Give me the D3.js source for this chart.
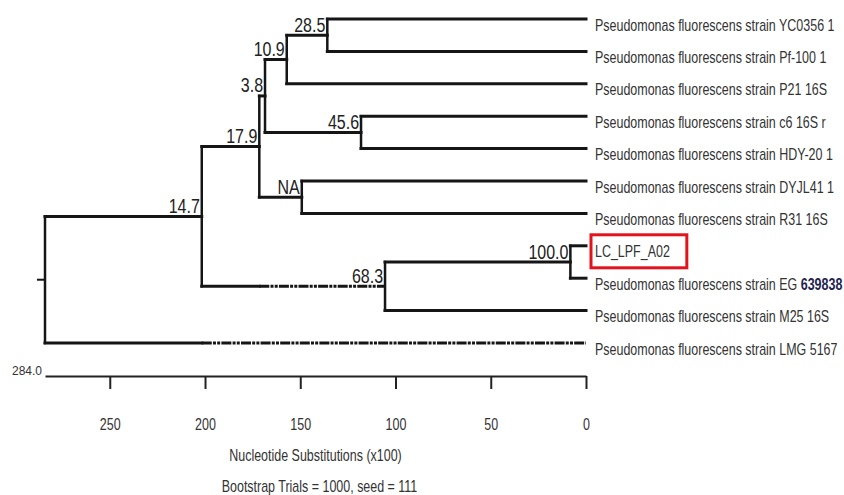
<!DOCTYPE html>
<html>
<head>
<meta charset="utf-8">
<script src="https://cdn.jsdelivr.net/npm/d3@7"></script>
<style>
  html, body { margin: 0; padding: 0; background: #fff; }
  svg { display: block; font-family: "Liberation Sans", Arial, sans-serif; }
</style>
</head>
<body>
<svg id="chart" width="844" height="495"></svg>
<script>
// leaves, top to bottom
const leafNames = [
  'Pseudomonas fluorescens strain YC0356 1',
  'Pseudomonas fluorescens strain Pf-100 1',
  'Pseudomonas fluorescens strain P21 16S',
  'Pseudomonas fluorescens strain c6 16S r',
  'Pseudomonas fluorescens strain HDY-20 1',
  'Pseudomonas fluorescens strain DYJL41 1',
  'Pseudomonas fluorescens strain R31 16S',
  'LC_LPF_A02',
  'Pseudomonas fluorescens strain EG 639838',
  'Pseudomonas fluorescens strain M25 16S',
  'Pseudomonas fluorescens strain LMG 5167'
];
const leafParents = ['n28_5', 'n28_5', 'n10_9', 'n45_6', 'n45_6', 'nNA', 'nNA', 'n100', 'n100', 'n68_3', 'root'];

// internal nodes: height in nucleotide substitutions (x100), bootstrap support
const nodeIds     = ['root', 'n14_7', 'n17_9', 'n3_8', 'n10_9', 'n28_5', 'n45_6', 'nNA', 'n68_3', 'n100'];
const nodeParents = ['',     'root',  'n14_7', 'n17_9', 'n3_8', 'n10_9', 'n3_8',  'n17_9', 'n14_7', 'n68_3'];
const nodeHeights = [284.0, 201.7, 171.5, 168.5, 157.1, 135.8, 118.1, 149.2, 105.5, 8.2];
const nodeSupport = [null, '14.7', '17.9', '3.8', '10.9', '28.5', '45.6', 'NA', '68.3', '100.0'];

// branches drawn dashed from the sibling's height onwards
const dashedBranches = ['n68_3', leafNames[10]];
const highlighted = 'LC_LPF_A02';

const tickValues = [250, 200, 150, 100, 50, 0];
const rootLabel = '284.0';
const axisTitle = 'Nucleotide Substitutions (x100)';
const footnote = 'Bootstrap Trials = 1000, seed = 111';

const svg = d3.select('#chart');
const sx = 0.78; // the original text is horizontally condensed
const ink = '#151515';

const rows = nodeIds.map((id, i) => ({ id, parent: nodeParents[i], h: nodeHeights[i], support: nodeSupport[i] }))
  .concat(leafNames.map((id, i) => ({ id, parent: leafParents[i], h: 0, support: null })));

const root = d3.stratify().id(d => d.id).parentId(d => d.parent || null)(rows);

const x = d3.scaleLinear().domain([284, 0]).range([45, 586]);
const yLeaf = d3.scalePoint().domain(leafNames).range([19, 343]);

root.eachAfter(n => {
  n.px = x(n.data.h);
  n.py = n.children ? d3.mean(n.children, c => c.py) : yLeaf(n.id);
});

const tree = svg.append('g')
  .attr('fill', 'none')
  .attr('stroke', ink)
  .attr('stroke-linecap', 'square');

// vertical connectors
tree.selectAll('line.v')
  .data(root.descendants().filter(n => n.children))
  .join('line')
  .attr('class', 'v')
  .attr('stroke-width', 2.5)
  .attr('x1', n => n.px).attr('x2', n => n.px)
  .attr('y1', n => d3.min(n.children, c => c.py))
  .attr('y2', n => d3.max(n.children, c => c.py));

// horizontal branches
root.descendants().filter(n => n.parent).forEach(n => {
  const dashed = dashedBranches.includes(n.id);
  const sib = n.parent.children.find(c => c !== n);
  const split = dashed ? x(sib.data.h) : n.px;
  tree.append('line')
    .attr('stroke-width', 3)
    .attr('x1', n.parent.px).attr('x2', split)
    .attr('y1', n.py).attr('y2', n.py);
  if (dashed) {
    tree.append('line')
      .attr('stroke-width', 3)
      .attr('stroke-linecap', 'butt')
      .attr('stroke-dasharray', '10,1.2,3,1.2,3,1.2')
      .attr('x1', split).attr('x2', n.px)
      .attr('y1', n.py).attr('y2', n.py);
  }
});

// root stub
tree.append('line')
  .attr('stroke-width', 2)
  .attr('x1', root.px - 7).attr('x2', root.px)
  .attr('y1', root.py).attr('y2', root.py);

// bootstrap values
svg.append('g').selectAll('text')
  .data(root.descendants().filter(n => n.data.support))
  .join('text')
  .attr('transform', n => `translate(${n.px - 2},${n.py - 3.5}) scale(${sx},1)`)
  .attr('text-anchor', 'end')
  .attr('font-size', 20.5)
  .attr('fill', '#222')
  .text(n => n.data.support);

// leaf labels
const leafG = svg.append('g');
root.leaves().forEach(n => {
  const t = leafG.append('text')
    .attr('transform', `translate(${x(0) + 9},${n.py + 11.5}) scale(${sx},1)`)
    .attr('font-size', 16)
    .attr('fill', '#333');
  const m = n.id.match(/^(.* EG )(\d+)$/);
  if (m) {
    t.append('tspan').text(m[1]);
    t.append('tspan').attr('font-weight', 'bold').attr('fill', '#23234f').text(m[2]);
  } else {
    t.text(n.id);
  }
  if (n.id === highlighted) {
    const w = t.node().getComputedTextLength() * sx;
    leafG.append('rect')
      .attr('x', x(0) + 5).attr('y', n.py - 11)
      .attr('width', w + 21).attr('height', 33)
      .attr('fill', 'none')
      .attr('stroke', '#e3121c')
      .attr('stroke-width', 3);
  }
});

// scale axis
const axisY = 376;
const axisG = svg.append('g')
  .attr('transform', `translate(0,${axisY})`)
  .call(d3.axisBottom(x).tickValues(tickValues).tickSize(13).tickSizeOuter(0).tickPadding(30));
axisG.select('.domain').attr('stroke', '#222').attr('stroke-width', 2);
axisG.selectAll('.tick line').attr('stroke', '#222').attr('stroke-width', 2);
axisG.selectAll('.tick text')
  .attr('font-size', 16)
  .attr('font-family', '"Liberation Sans", Arial, sans-serif')
  .attr('fill', '#333')
  .attr('transform', `scale(${sx},1)`);

svg.append('text')
  .attr('x', x(284) - 3).attr('y', axisY - 1)
  .attr('text-anchor', 'end')
  .attr('font-size', 12)
  .attr('fill', '#333')
  .text(rootLabel);

const cx = (x.range()[0] + x.range()[1]) / 2;
svg.append('text')
  .attr('transform', `translate(${cx},461) scale(${sx},1)`)
  .attr('text-anchor', 'middle')
  .attr('font-size', 16)
  .attr('fill', '#333')
  .text(axisTitle);

svg.append('text')
  .attr('transform', `translate(${cx + 4},492) scale(${sx},1)`)
  .attr('text-anchor', 'middle')
  .attr('font-size', 16)
  .attr('fill', '#333')
  .text(footnote);
</script>
</body>
</html>
